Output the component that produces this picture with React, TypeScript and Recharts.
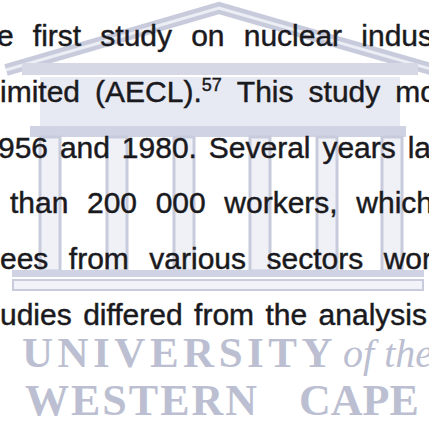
import React from "react";
import { ComposedChart, Scatter, XAxis, YAxis, Customized } from "recharts";

// text of the cropped page, one entry per printed line ("^" marks a superscript)
const paragraphLines = [
  "e first study on nuclear indus",
  "imited (AECL).^57 This study mo",
  "956 and 1980. Several years la",
  "than 200 000 workers, which",
  "ees from various sectors wor",
  "udies differed from the analysis",
];
const lineNumbers = [0, 1, 2, 3, 4, 5];

const crestTop = "UNIVERSITY";
const crestTopSmall = "of the";
const crestBottom = ["WESTERN", "CAPE"];

// where each justified line starts / ends in the crop (px)
const lineStart = [-3, 0, -2, 10, 0, 0];
const lineEnd = [433, 437, 431, 433, 432, 427];

const W = 429;
const H = 421;
const FONT = '"Liberation Sans", Arial, Helvetica, sans-serif';
const SERIF = '"Liberation Serif", "DejaVu Serif", serif';
const SIZE = 30;
const SUP = 18;

const data = lineNumbers.map((n) => ({ x: 0, y: n, line: n, text: paragraphLines[n] }));

let ctx: CanvasRenderingContext2D | null = null;
function measure(s: string, size: number) {
  if (!ctx) ctx = document.createElement("canvas").getContext("2d");
  if (!ctx) return s.length * size * 0.5;
  ctx.font = `${size}px ${FONT}`;
  return ctx.measureText(s).width;
}

function TextLine(props: any) {
  const { cx, cy, payload } = props;
  const words = String(payload.text).split(" ").map((w: string) => {
    const [main, sup] = w.split("^");
    return { main, sup, width: measure(main, SIZE) + (sup ? measure(sup, SUP) : 0) };
  });
  const start = cx + lineStart[payload.line];
  const end = cx + lineEnd[payload.line];
  const total = words.reduce((s: number, w: any) => s + w.width, 0);
  const gap = words.length > 1 ? (end - start - total) / (words.length - 1) : 0;
  let x = start;
  return (
    <g>
      {words.map((w: any, i: number) => {
        const el = (
          <text
            key={i}
            x={x}
            y={cy}
            fontFamily={FONT}
            fontSize={SIZE}
            fill="#1a1a1e"
            stroke="#1a1a1e"
            strokeWidth={0.45}
          >
            {w.main}
            {w.sup && (
              <tspan dy={-11} fontSize={SUP}>
                {w.sup}
              </tspan>
            )}
          </text>
        );
        x += w.width + gap;
        return el;
      })}
    </g>
  );
}

const columns = [40, 107, 174, 250, 317, 382];

function Crest() {
  const line = "#c8cbdc";
  return (
    <g>
      <polyline points="6,70 219,8 434,70" fill="none" stroke={line} strokeWidth={12} />
      <polyline points="6,70 219,8 434,70" fill="none" stroke="#eceef5" strokeWidth={3} />
      <rect x={22} y={63} width={396} height={12} fill="#d6d8e6" />
      <rect x={40} y={77} width={360} height={49} fill="#e8eaf3" />
      <rect x={30} y={126} width={376} height={11} fill="#d0d3e3" />
      {columns.map((c) => (
        <rect key={c} x={c} y={137} width={20} height={134} fill="#f0f1f7" stroke={line} strokeWidth={3} />
      ))}
      <rect x={12} y={270} width={412} height={7} fill="#d0d3e3" />
      <rect x={13} y={280} width={410} height={10} fill="#f2f3f8" stroke={line} strokeWidth={2} />
      <text x={22} y={367} fontFamily={SERIF} fontWeight="bold" fontSize={43} letterSpacing={4.5} fill="#bcbfd1">
        {crestTop}
        <tspan dx={6} fontStyle="italic" fontWeight="normal" fontSize={40} letterSpacing={0}>
          {crestTopSmall}
        </tspan>
      </text>
      <text x={25} y={415} fontFamily={SERIF} fontWeight="bold" fontSize={44} letterSpacing={2} fill="#bcbfd1">
        {crestBottom[0]}
      </text>
      <text x={299} y={415} fontFamily={SERIF} fontWeight="bold" fontSize={44} letterSpacing={0} fill="#bcbfd1">
        {crestBottom[1]}
      </text>
    </g>
  );
}

export default function App() {
  return (
    <div style={{ position: "absolute", left: 0, top: 0, width: W, height: H, background: "#fff", overflow: "hidden" }}>
      <ComposedChart width={W} height={H} data={data} margin={{ top: 0, right: 0, bottom: 0, left: 0 }}>
        <XAxis type="number" dataKey="x" domain={[0, W]} hide allowDataOverflow />
        <YAxis type="number" dataKey="y" domain={[-0.824, 6.721]} reversed hide allowDataOverflow />
        <Customized component={Crest} />
        <Scatter data={data} dataKey="y" shape={<TextLine />} isAnimationActive={false} />
      </ComposedChart>
    </div>
  );
}
